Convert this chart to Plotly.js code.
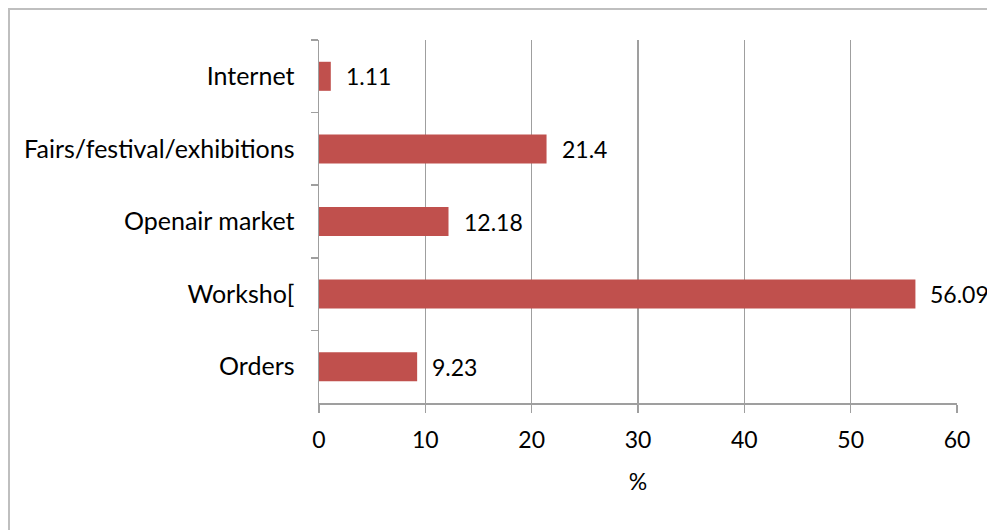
<!DOCTYPE html>
<html>
<head>
<meta charset="utf-8">
<script src="https://cdn.plot.ly/plotly-3.0.1.min.js"></script>
<style>
html,body{margin:0;padding:0;background:#fff;overflow:hidden;}
#chart{width:987px;height:530px;}
</style>
</head>
<body>
<div id="chart"></div>
<script>
const categories = ["Internet", "Fairs/festival/exhibitions", "Openair market", "Worksho[", "Orders"];
const values = [1.11, 21.4, 12.18, 56.09, 9.23];
const labels = ["1.11", "21.4", "12.18", "56.09", "9.23"];
const xTitle = "%";

const font = "Lato, 'Open Sans', sans-serif";

const trace = {
  type: "bar",
  orientation: "h",
  x: values,
  y: categories,
  marker: {color: "#C0504D"},
  hoverinfo: "x+y"
};

const annotations = categories.map((c, i) => ({
  x: values[i], y: c, xref: "x", yref: "y",
  text: labels[i], showarrow: false,
  xanchor: "left", yanchor: "middle", xshift: 13,
  font: {family: font, size: 23, color: "#000"}
}));

const layout = {
  width: 987, height: 530,
  margin: {l: 319, r: 30, t: 40, b: 127},
  paper_bgcolor: "#fff", plot_bgcolor: "#fff",
  bargap: 0.6,
  showlegend: false,
  font: {family: font, size: 23, color: "#000"},
  xaxis: {
    range: [0, 60], dtick: 10, tick0: 0,
    showgrid: true, gridcolor: "#9f9f9f", gridwidth: 1.5,
    zeroline: false,
    showline: true, linecolor: "#9f9f9f", linewidth: 1.5,
    ticks: "outside", ticklen: 8, tickcolor: "#9f9f9f", tickwidth: 1.5,
    tickfont: {family: font, size: 23, color: "#000"},
    ticklabelstandoff: 8,
    title: {text: xTitle, font: {family: font, size: 23, color: "#000"}, standoff: 22},
    fixedrange: true
  },
  yaxis: {
    autorange: "reversed",
    type: "category",
    showgrid: false, zeroline: false,
    showline: true, linecolor: "#9f9f9f", linewidth: 1.5,
    ticks: "outside", tickson: "boundaries", ticklen: 7, tickcolor: "#9f9f9f", tickwidth: 1.5,
    tickfont: {family: font, size: 25, color: "#000"},
    ticklabelstandoff: 18,
    fixedrange: true
  },
  annotations: annotations,
  shapes: [{
    type: "rect", xref: "paper", yref: "paper",
    x0: (9 - 319) / 638, x1: 1.2, y0: -0.5, y1: (403 - 9) / 363,
    line: {color: "#bfbfbf", width: 2}, fillcolor: "rgba(0,0,0,0)", layer: "below"
  }]
};

Plotly.newPlot("chart", [trace], layout, {displayModeBar: false, staticPlot: true});
</script>
</body>
</html>
